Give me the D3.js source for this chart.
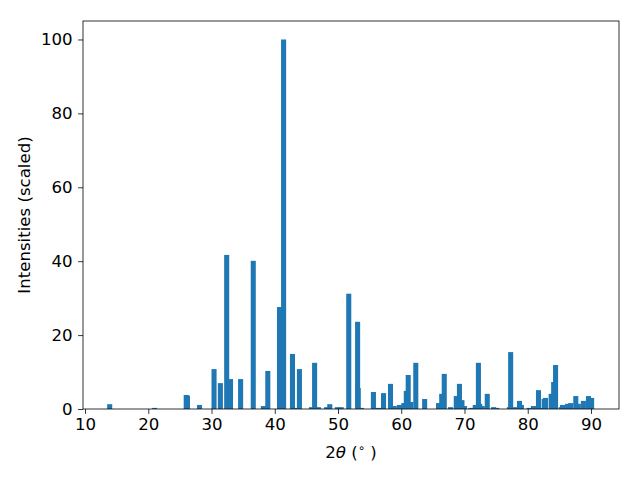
<!DOCTYPE html>
<html>
<head>
<meta charset="utf-8">
<script src="https://cdn.jsdelivr.net/npm/d3@7"></script>
<style>
  body { margin: 0; background: #fff; }
  text { font-family: "DejaVu Sans", sans-serif; }
</style>
</head>
<body>
<div id="chart"></div>
<script>
// peak positions (2theta, degrees) and scaled intensities
var angles = [
  13.9, 21.0, 26.0, 26.2, 28.1, 30.4, 31.4, 32.4, 33.0, 34.6,
  36.6, 38.2, 38.9, 40.75, 41.4, 42.8, 43.3, 43.9, 45.8, 46.3,
  46.9, 48.2, 48.7, 49.9, 50.5, 51.7, 53.1, 53.2, 53.7, 55.6,
  56.4, 57.2, 58.3, 58.9, 59.7, 60.4, 60.8, 61.1, 61.5, 62.3,
  63.7, 65.9, 66.4, 66.8, 67.8, 68.7, 69.2, 69.6, 70.0, 71.0,
  71.7, 72.2, 72.4, 72.8, 73.6, 74.6, 75.1, 77.1, 77.3, 77.9,
  78.7, 79.0, 80.2, 80.9, 81.7, 82.1, 82.6, 82.8, 83.7, 84.1,
  84.4, 85.3, 85.5, 86.3, 86.8, 87.6, 88.0, 88.8, 89.6, 90.1
];
var intensities = [
  1.3, 0.3, 3.8, 3.6, 1.1, 10.8, 7.0, 41.7, 8.1, 8.1,
  40.1, 0.8, 10.3, 27.6, 100, 14.9, 0.3, 10.8, 0.5, 12.5,
  0.5, 0.5, 1.3, 0.5, 0.5, 31.2, 23.6, 5.7, 0.3, 4.6,
  0.3, 4.3, 6.8, 0.8, 1.1, 1.6, 4.9, 9.2, 1.9, 12.5,
  2.7, 1.6, 4.1, 9.5, 0.5, 3.5, 6.8, 2.4, 0.8, 0.3,
  1.1, 12.5, 1.4, 0.8, 4.1, 0.5, 0.3, 0.5, 15.4, 0.5,
  2.2, 1.1, 0.3, 0.8, 5.1, 0.3, 2.7, 3.0, 4.1, 7.3,
  11.9, 0.5, 1.1, 1.4, 1.6, 3.5, 1.4, 2.2, 3.5, 3.0
];
var xTicks = [10, 20, 30, 40, 50, 60, 70, 80, 90];
var yTicks = [0, 20, 40, 60, 80, 100];
var barWidth = 0.8;

var svgWidth = 640;
var svgHeight = 480;
var margin = { top: 21, right: 21, bottom: 71, left: 83 };
var width = svgWidth - margin.left - margin.right;
var height = svgHeight - margin.top - margin.bottom;

var svg = d3.select("#chart")
  .append("svg")
  .attr("width", svgWidth)
  .attr("height", svgHeight);

var chartGroup = svg.append("g")
  .attr("transform", `translate(${margin.left}, ${margin.top})`);

var peaks = angles.map(function(a, i) {
  return { angle: a, value: intensities[i] };
});

var xScale = d3.scaleLinear()
  .domain([9.68, 94.43])
  .range([0, width]);

var yScale = d3.scaleLinear()
  .domain([0, 105])
  .range([height, 0]);

// bars, drawn in angle order so later ones sit on top
chartGroup.selectAll("rect.bar")
  .data(peaks)
  .enter()
  .append("rect")
  .attr("class", "bar")
  .attr("x", d => xScale(d.angle - barWidth / 2))
  .attr("y", d => yScale(d.value))
  .attr("width", d => xScale(d.angle + barWidth / 2) - xScale(d.angle - barWidth / 2))
  .attr("height", d => yScale(0) - yScale(d.value))
  .attr("fill", "#1f77b4");

var bottomAxis = d3.axisBottom(xScale).tickValues(xTicks).tickSize(4.9).tickPadding(4);
var leftAxis = d3.axisLeft(yScale).tickValues(yTicks).tickSize(4.9).tickPadding(5.5);

var xAxisG = chartGroup.append("g")
  .attr("transform", `translate(0, ${height})`)
  .call(bottomAxis);

var yAxisG = chartGroup.append("g")
  .call(leftAxis);

[xAxisG, yAxisG].forEach(function(g) {
  g.select(".domain").remove();
  g.selectAll("line").attr("stroke", "#000").attr("stroke-width", 0.8);
  g.selectAll("text")
    .attr("fill", "#000")
    .style("font-size", "16.6px")
    .style("font-family", "DejaVu Sans, sans-serif");
});

// frame
chartGroup.append("rect")
  .attr("x", 0)
  .attr("y", 0)
  .attr("width", width)
  .attr("height", height)
  .attr("fill", "none")
  .attr("stroke", "#000")
  .attr("stroke-width", 0.8);

// axis labels
chartGroup.append("text")
  .attr("transform", "rotate(-90)")
  .attr("x", -height / 2)
  .attr("y", -53)
  .attr("text-anchor", "middle")
  .style("font-size", "16.6px")
  .text("Intensities (scaled)");

var xLabel = chartGroup.append("text")
  .attr("x", width / 2)
  .attr("y", height + 49)
  .attr("text-anchor", "middle")
  .style("font-size", "16.6px");
xLabel.append("tspan").text("2");
xLabel.append("tspan").style("font-style", "italic").text("θ");
xLabel.append("tspan").text(" (");
xLabel.append("tspan").attr("dy", -6).style("font-size", "11.6px").text("∘");
xLabel.append("tspan").attr("dy", 6).text(" )");
</script>
</body>
</html>
